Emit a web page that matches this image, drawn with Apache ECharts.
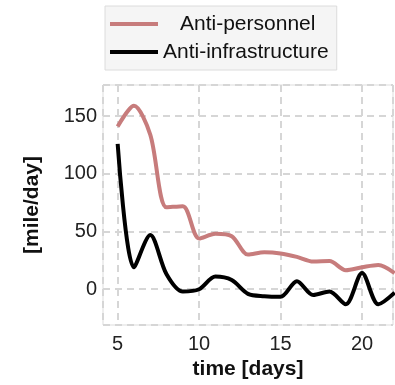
<!DOCTYPE html>
<html>
<head>
<meta charset="utf-8">
<script src="https://cdn.jsdelivr.net/npm/echarts@6/dist/echarts.min.js"></script>
<style>
html,body{margin:0;padding:0;background:#fff;}
#main{width:395px;height:385px;}
</style>
</head>
<body>
<div id="main"></div>
<script>
// days on the x axis
var days = [5, 6, 7, 8, 9, 10, 11, 12, 13, 14, 15, 16, 17, 18, 19, 20, 21, 22];
// speed [mile/day]
var antiPersonnel = [141, 159, 134, 71, 72, 44, 48, 46, 30, 32, 31, 28, 24, 24.5, 16.5, 19, 21, 14];
var antiInfra = [126, 19, 47, 13, -2, 0, 11, 8, -4, -6, -6.5, 7, -5, -2, -13, 14, -13, -3];
var seriesNames = ['Anti-personnel', 'Anti-infrastructure'];

function pairs(vals){
	var out = [];
	for (let i = 0; i < days.length; i++) {
		out.push([days[i], vals[i]]);
	}
	return out;
}

var font = '"Liberation Sans", Arial, Helvetica, sans-serif';
var gridLine = {show: true, lineStyle: {color: '#d6d6d6', width: 2, type: [7, 5]}};

var option = {
	animation: false,
	backgroundColor: '#fff',
	grid: {
		left: 103, top: 85, width: 290, height: 242,
		show: true, borderColor: '#dddddd', borderWidth: 1, backgroundColor: '#fff'
	},
	legend: {
		orient: 'vertical',
		left: 105, top: 6,
		padding: [4, 8, 4, 5],
		icon: 'rect',
		itemWidth: 48, itemHeight: 4, itemGap: 0,
		backgroundColor: '#f5f5f5', borderColor: '#dcdcdc', borderWidth: 1,
		data: seriesNames,
		textStyle: {
			fontFamily: font, fontSize: 21, color: '#111', lineHeight: 28,
			rich: {p: {fontFamily: font, fontSize: 21, color: '#111', lineHeight: 28, padding: [0, 0, 0, 17]}}
		},
		formatter: function(name){
			return name == 'Anti-personnel' ? '{p|' + name + '}' : name;
		}
	},
	xAxis: {
		type: 'value',
		min: 4.1, max: 21.9, splitNumber: 4,
		name: 'time [days]', nameLocation: 'middle', nameGap: 34,
		nameTextStyle: {fontFamily: font, fontSize: 21, fontWeight: 'bold', color: '#111'},
		axisLine: {show: false}, axisTick: {show: false},
		axisLabel: {fontFamily: font, fontSize: 20, color: '#222', margin: 9, showMinLabel: false, showMaxLabel: false},
		splitLine: gridLine
	},
	yAxis: {
		type: 'value',
		min: -31, max: 177, splitNumber: 4,
		name: '[mile/day]', nameLocation: 'middle', nameGap: 60,
		nameTextStyle: {fontFamily: font, fontSize: 21, fontWeight: 'bold', color: '#111'},
		axisLine: {show: false}, axisTick: {show: false},
		axisLabel: {fontFamily: font, fontSize: 20, color: '#222', margin: 6, showMinLabel: false, showMaxLabel: false},
		splitLine: gridLine
	},
	series: [{
		name: seriesNames[0],
		type: 'line',
		smooth: 0.3,
		symbol: 'none',
		data: pairs(antiPersonnel),
		lineStyle: {color: '#c77c7c', width: 4},
		itemStyle: {color: '#c77c7c'}
	}, {
		name: seriesNames[1],
		type: 'line',
		smooth: 0.3,
		symbol: 'none',
		data: pairs(antiInfra),
		lineStyle: {color: '#000', width: 4},
		itemStyle: {color: '#000'}
	}]
};

var myChart = echarts.init(document.getElementById('main'), null, {renderer: 'canvas'});
myChart.setOption(option);
</script>
</body>
</html>
